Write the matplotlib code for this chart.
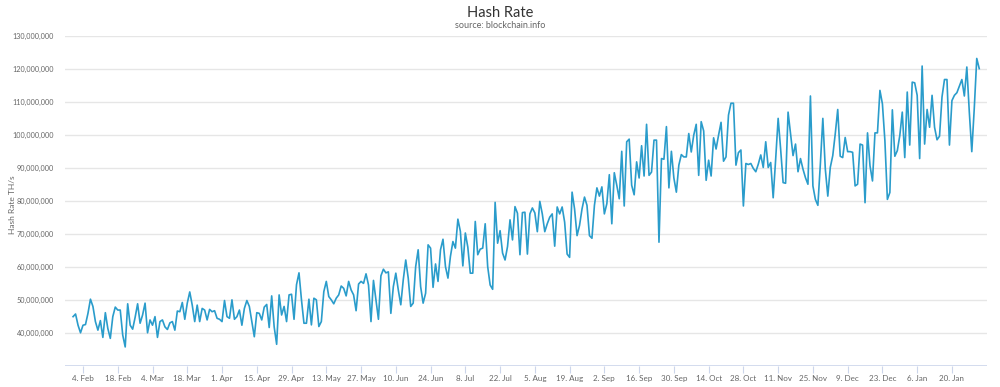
import pandas as pd
import numpy as np
import matplotlib
matplotlib.use('Agg')
import matplotlib.pyplot as plt
from matplotlib.ticker import FuncFormatter

plt.rcParams['font.family'] = ['Lato', 'DejaVu Sans']

# daily hash rate in million TH/s (31 Jan 2019 onwards)
rate_feb_apr = [44.9, 45.7, 42.3, 40.0, 42.3, 42.5, 45.9, 50.2, 48.0, 43.4, 40.8, 43.7, 38.6, 46.1, 41.3, 38.3,
                44.9, 47.8, 46.9, 46.9, 39.3, 35.7, 48.8, 42.3, 41.1, 44.7, 48.8, 42.9, 45.4, 49.0, 40.0, 43.9,
                42.3, 44.9, 38.6, 43.4, 43.9, 41.8, 41.0, 43.0, 43.4, 40.8, 46.6, 46.4, 49.2, 44.1, 49.0, 52.4,
                48.4, 43.4, 48.4, 43.4, 47.4, 46.9, 43.9, 47.1, 46.4, 46.7, 44.4, 44.1, 43.4, 49.8, 44.9, 44.4,
                50.0, 44.1, 44.9, 46.9, 42.3, 47.4, 49.8, 48.0, 43.4, 38.8, 46.1, 45.9, 43.9, 47.8, 48.6, 41.6,
                51.2, 41.8, 36.5, 51.5, 45.4, 48.0, 43.4, 51.5, 51.7, 44.1, 54.6, 58.2]
rate_may_jul = [50.0, 42.9, 42.9, 50.2, 42.4, 50.5, 50.0, 41.9, 43.4, 52.5, 55.6, 51.0, 50.0, 48.8, 50.5, 51.5,
                54.2, 53.5, 51.2, 55.6, 53.0, 51.5, 46.7, 54.8, 55.6, 55.0, 57.9, 54.5, 43.4, 55.9, 50.0, 44.1,
                57.3, 59.3, 58.2, 58.5, 45.9, 54.0, 58.1, 53.0, 48.5, 56.1, 62.1, 56.6, 48.0, 49.0, 60.1, 65.2,
                54.0, 49.0, 52.0, 66.7, 65.7, 53.8, 60.9, 55.6, 65.2, 68.4, 60.1, 56.6, 63.2, 67.7, 65.7, 74.5,
                70.8, 60.3, 70.3, 66.0, 58.1, 58.1, 73.8, 63.7, 65.4, 65.7, 73.1, 60.1, 54.5, 53.2, 79.6, 67.2,
                71.0, 64.2, 62.1, 66.2, 74.3, 68.2, 78.3, 76.3, 63.7, 76.5]
rate_aug_oct = [76.6, 63.9, 76.1, 77.9, 76.4, 70.7, 79.9, 76.1, 70.7, 73.1, 75.1, 76.1, 66.3, 78.2, 76.1, 78.2,
                73.6, 63.9, 62.9, 82.7, 77.6, 69.5, 72.6, 77.6, 81.2, 78.7, 69.5, 68.7, 78.7, 84.0, 81.5, 84.3,
                76.1, 79.2, 88.0, 73.1, 88.6, 84.8, 80.7, 95.1, 78.5, 98.0, 98.8, 84.8, 81.9, 91.9, 87.0, 96.8,
                87.6, 103.3, 87.8, 88.8, 98.5, 98.5, 67.5, 92.9, 92.7, 102.6, 84.0, 95.1, 87.0, 82.7, 90.9, 94.1,
                93.4, 93.4, 100.5, 94.9, 100.0, 103.3, 87.8, 104.1, 101.3, 86.3, 92.4, 87.6, 99.2, 95.8, 100.0,
                103.9, 92.1, 93.4, 106.1, 109.7, 109.7, 90.9, 94.7, 95.5, 78.5, 91.4, 91.1, 91.4]
rate_nov_jan = [89.9, 88.9, 91.2, 94.0, 90.2, 98.0, 90.2, 91.7, 81.0, 92.7, 105.1, 95.8, 85.6, 85.4, 107.0, 100.4,
                93.8, 97.3, 88.9, 92.9, 89.7, 87.1, 85.1, 111.9, 84.6, 80.5, 78.7, 91.2, 105.1, 89.7, 81.5, 90.2,
                93.8, 100.4, 107.8, 93.6, 93.2, 99.3, 95.0, 95.0, 94.8, 84.6, 85.1, 97.3, 97.0, 79.5, 100.7, 90.7,
                86.1, 100.7, 100.7, 113.6, 109.5, 98.3, 80.5, 82.6, 107.7, 93.6, 95.3, 99.9, 107.0, 93.2, 113.1,
                97.0, 116.1, 115.9, 112.1, 92.9, 121.0, 97.3, 107.8, 102.4, 112.1, 102.4, 98.6, 99.7, 111.6,
                116.9, 116.9, 97.0, 110.5, 112.1, 112.9, 114.9, 116.9, 111.9, 120.7, 107.0, 95.0, 108.2, 123.3,
                120.2]

start_date = '2019-01-31'
tick_start, tick_end = '2019-02-04', '2020-01-20'

hash_rate = np.array(rate_feb_apr + rate_may_jul + rate_aug_oct + rate_nov_jan) * 1e6
dates = pd.date_range(start=start_date, periods=len(hash_rate), freq='D')

fig = plt.figure(figsize=(10, 3.87), dpi=100)
ax = fig.add_axes([0.065, 0.055, 0.922, 0.851])

ax.plot(dates, hash_rate, color='#2a9ccb', linewidth=1.2)

ax.set_ylim(30e6, 130e6)
ax.set_yticks(np.arange(40e6, 131e6, 10e6))
ax.yaxis.set_major_formatter(FuncFormatter(lambda v, p: f'{int(v):,}'))
ax.grid(axis='y', color='#e6e6e6', linewidth=1)
ax.axhline(30e6, color='#ccd6eb', linewidth=1.2, zorder=0)

x_ticks = pd.date_range(start=tick_start, end=tick_end, freq='14D')
ax.set_xticks(x_ticks)
ax.set_xticklabels([f'{d.day}. {d.strftime("%b")}' for d in x_ticks])
ax.set_xlim(pd.Timestamp('2019-01-27 18:00'), pd.Timestamp('2020-02-03 03:00'))

for side in ['top', 'right', 'left', 'bottom']:
    ax.spines[side].set_visible(False)
ax.tick_params(axis='y', length=0, labelsize=5.2, labelcolor='#666666', pad=8)
ax.tick_params(axis='x', length=5, color='#ccd6eb', labelsize=5.8, labelcolor='#666666', pad=2)
ax.set_axisbelow(True)

fig.text(0.013, 0.47, 'Hash Rate TH/s', rotation=90, ha='center', va='center', fontsize=6, color='#666666')
fig.text(0.5, 0.967, 'Hash Rate', ha='center', va='center', fontsize=10.5, color='#333333')
fig.text(0.5, 0.933, 'source: blockchain.info', ha='center', va='center', fontsize=6.5, color='#666666')

plt.savefig('out.png', dpi=100)
